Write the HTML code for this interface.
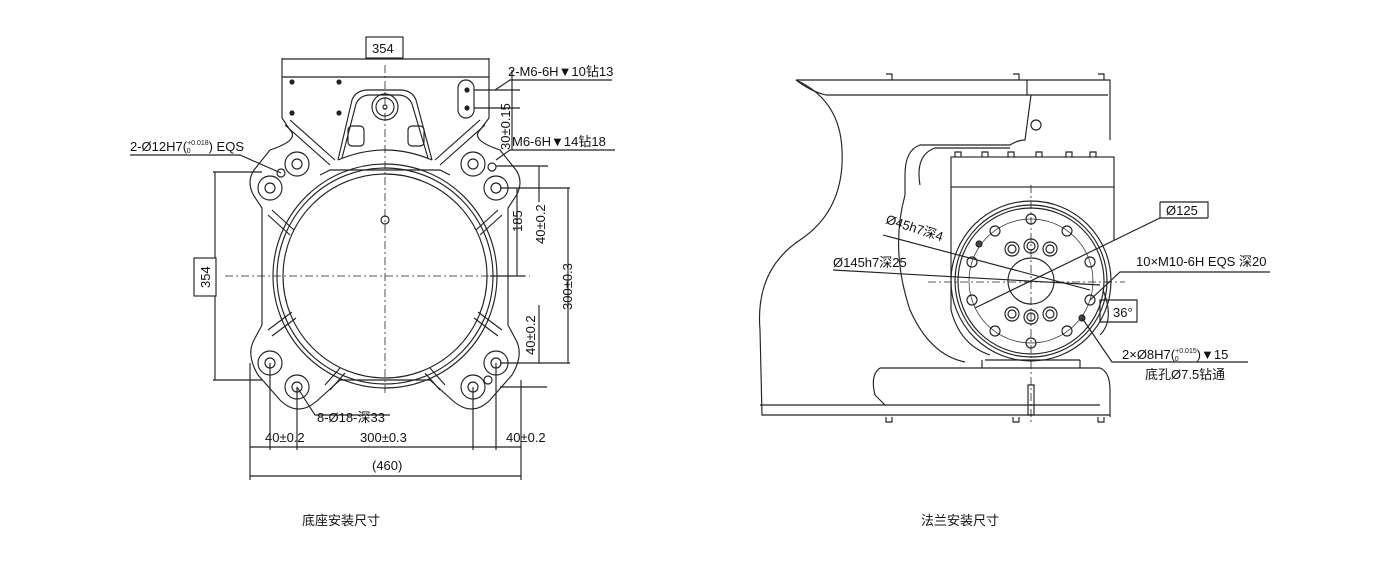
<!DOCTYPE html>
<html><head><meta charset="utf-8"><style>
html,body{margin:0;padding:0;background:#fff;}
svg{display:block;}
text{font-family:"Liberation Sans","Noto Sans CJK SC",sans-serif;fill:#111;}
.t{font-size:13px;}
</style></head><body>
<svg width="1400" height="567" viewBox="0 0 1400 567" xmlns="http://www.w3.org/2000/svg">
<g fill="none" stroke="#222" stroke-width="1.15">
<!-- LEFT DRAWING -->
<path d="M282 77 H489 V118 M282 77 V118"/>
<circle cx="292" cy="82" r="2" fill="#222"/><circle cx="339" cy="82" r="2" fill="#222"/>
<circle cx="292" cy="113" r="2" fill="#222"/><circle cx="339" cy="113" r="2" fill="#222"/>
<path d="M338 160 L352 100 Q356 90 368 90 H400 Q412 90 416 100 L432 160"/>
<path d="M342 158 L356 104 Q360 95 370 95 H398 Q408 95 412 104 L428 158"/>
<circle cx="385" cy="107" r="13"/><circle cx="385" cy="107" r="9"/><circle cx="385" cy="107" r="2"/>
<path d="M338 160 Q385 140 432 160"/>
<rect x="348" y="126" width="16" height="20" rx="4"/><rect x="408" y="126" width="16" height="20" rx="4"/>
<rect x="458" y="80" width="16" height="38" rx="8"/>
<circle cx="467" cy="90" r="2" fill="#222"/><circle cx="467" cy="108" r="2" fill="#222"/>
<path d="M282 118 L290 130 Q300 140 270 150 L254 170 Q246 182 254 196 L262 208 V325 L254 340 Q246 355 258 375 L280 400 Q298 418 318 400 L340 380 H430 L452 400 Q472 418 490 400 L512 375 Q524 355 516 340 L508 325 V208 L516 196 Q524 182 516 170 L500 150 Q470 140 480 130 L489 118"/>
<path d="M320 175 L330 170 H440 L450 175"/>
<circle cx="385" cy="276" r="102"/>
<circle cx="385" cy="276" r="112"/>
<circle cx="385" cy="276" r="108"/>
<circle cx="385" cy="220" r="4"/>
<g>
<circle cx="297" cy="164" r="12"/><circle cx="297" cy="164" r="5"/>
<circle cx="270" cy="188" r="12"/><circle cx="270" cy="188" r="5"/>
<circle cx="473" cy="164" r="12"/><circle cx="473" cy="164" r="5"/>
<circle cx="496" cy="188" r="12"/><circle cx="496" cy="188" r="5"/>
<circle cx="270" cy="363" r="12"/><circle cx="270" cy="363" r="5"/>
<circle cx="297" cy="387" r="12"/><circle cx="297" cy="387" r="5"/>
<circle cx="473" cy="387" r="12"/><circle cx="473" cy="387" r="5"/>
<circle cx="496" cy="363" r="12"/><circle cx="496" cy="363" r="5"/>
<circle cx="281" cy="173" r="4"/><circle cx="492" cy="167" r="4"/><circle cx="488" cy="380" r="4"/>
</g>
<path d="M268 215 L290 235 M272 210 L294 230 M268 330 L292 312 M272 336 L296 318 M502 215 L480 235 M498 210 L476 230 M502 330 L478 312 M498 336 L474 318 M325 385 L340 368 M330 390 L345 373 M445 385 L430 368 M440 390 L425 373"/>
<path d="M285 125 L330 165 M290 120 L335 160 M485 125 L440 165 M480 120 L435 160"/>
<g stroke-dasharray="8 3 2 3" stroke-width="0.8">
<path d="M385 65 V395"/><path d="M225 276 H530"/>
</g>
<path d="M282 59 H489 M282 58 V77 M489 58 V77"/>
<rect x="366" y="37" width="37" height="21" fill="#fff"/>
<path d="M215 172 V380 M213 172 H262 M213 380 H262"/>
<rect x="194" y="258" width="22" height="38" fill="#fff"/>
<path d="M495 90 L510 80 H612"/>
<path d="M474 90 H520 M474 108 H520 M512 70 V150"/>
<path d="M496 160 L510 150 H615"/>
<path d="M496 166 H548 M490 276 H525 M517 188 V276 M539 166 V202 M500 188 H570 M500 363 H570 M568 188 V363 M539 305 V363 M500 387 H547"/>
<path d="M281 173 L240 155 H130"/>
<path d="M297 387 L315 415 H390"/>
<path d="M250 363 V480 M270 363 V450 M297 387 V450 M473 387 V450 M496 363 V450 M521 380 V480"/>
<path d="M250 447 H521 M250 476 H521"/>

<!-- RIGHT DRAWING -->
<path d="M796 80 H1110 V140 M796 80 Q812 92 826 95 H1108"/>
<path d="M1027 80 V95 M1031 95 L1025 140 Q1018 140 1010 145"/>
<circle cx="1036" cy="125" r="5"/>
<path d="M886 74 h6 v6 M1013 74 h6 v6 M1098 74 h6 v6"/>
<path d="M796 80 Q840 100 842 150 Q845 210 800 240 Q755 270 760 330 L762 415 H1110"/>
<path d="M760 405 H1100"/>
<path d="M1010 145 H920 Q905 150 905 175 V195"/>
<path d="M1010 148 H935 Q915 155 920 185"/>
<rect x="951" y="157" width="163" height="30"/>
<path d="M955 157 v-5 h6 v5 M982 157 v-5 h6 v5 M1008 157 v-5 h6 v5 M1036 157 v-5 h6 v5 M1066 157 v-5 h6 v5 M1090 157 v-5 h6 v5"/>
<path d="M951 187 V310 Q960 345 990 355 M1114 187 V240"/>
<path d="M905 195 Q890 250 910 310 Q930 355 965 362"/>
<circle cx="1031" cy="281" r="80"/>
<circle cx="1031" cy="281" r="76"/>
<circle cx="1031" cy="281" r="73"/>
<circle cx="1031" cy="281" r="62" stroke-width="0.7"/>
<circle cx="1031" cy="281" r="23"/>
<g>
<circle cx="1031" cy="219" r="5"/><circle cx="1067" cy="231" r="5"/><circle cx="1090" cy="262" r="5"/><circle cx="1090" cy="300" r="5"/><circle cx="1067" cy="331" r="5"/><circle cx="1031" cy="343" r="5"/><circle cx="995" cy="331" r="5"/><circle cx="972" cy="300" r="5"/><circle cx="972" cy="262" r="5"/><circle cx="995" cy="231" r="5"/>
<circle cx="979" cy="244" r="3" fill="#444"/><circle cx="1082" cy="318" r="3" fill="#444"/>
<circle cx="1012" cy="249" r="7"/><circle cx="1012" cy="249" r="4"/>
<circle cx="1031" cy="246" r="7"/><circle cx="1031" cy="246" r="4"/>
<circle cx="1050" cy="249" r="7"/><circle cx="1050" cy="249" r="4"/>
<circle cx="1012" cy="314" r="7"/><circle cx="1012" cy="314" r="4"/>
<circle cx="1031" cy="317" r="7"/><circle cx="1031" cy="317" r="4"/>
<circle cx="1050" cy="314" r="7"/><circle cx="1050" cy="314" r="4"/>
</g>
<path d="M985 360 H1080 M982 360 V368 M1080 360 V368"/>
<path d="M880 368 H1100 Q1110 372 1110 390 V417 M880 368 Q870 375 875 395 L885 405"/>
<path d="M1028 385 v30 h6 v-30 z"/>
<path d="M886 417 v5 h6 v-5 M1013 417 v5 h6 v-5 M1098 417 v5 h6 v-5"/>
<g stroke-dasharray="8 3 2 3" stroke-width="0.8"><path d="M1031 185 V425"/><path d="M928 282 H1125"/></g>
<path d="M975 308 L1160 218 H1208 M1160 202 H1208 V218 M1160 202 V218"/>
<path d="M883 235 L1090 290"/>
<path d="M833 270 L1100 285"/>
<path d="M1090 300 L1120 272 H1270"/>
<path d="M1082 318 L1112 362 H1248"/>
<path d="M1100 300 H1137 V322 H1100 Z M1103 290 Q1115 320 1100 335"/>
</g>
<g class="t">
<text x="372" y="53">354</text>
<text x="508" y="76">2-M6-6H▼10钻13</text>
<text x="512" y="146">M6-6H▼14钻18</text>
<text x="130" y="151">2-Ø12H7(<tspan font-size="7" dy="-6">+0.018</tspan><tspan font-size="7" dx="-22" dy="8">0</tspan><tspan dy="-2" dx="18">) EQS</tspan></text>
<text x="317" y="422">8-Ø18-深33</text>
<text x="265" y="442">40±0.2</text>
<text x="360" y="442">300±0.3</text>
<text x="506" y="442">40±0.2</text>
<text x="372" y="470">(460)</text>
<text transform="translate(210,288) rotate(-90)">354</text>
<text transform="translate(510,150) rotate(-90)">30±0.15</text>
<text transform="translate(522,232) rotate(-90)">185</text>
<text transform="translate(545,244) rotate(-90)">40±0.2</text>
<text transform="translate(572,310) rotate(-90)">300±0.3</text>
<text transform="translate(535,355) rotate(-90)">40±0.2</text>
<text x="1166" y="215">Ø125</text>
<text transform="translate(885,223) rotate(18)">Ø45h7深4</text>
<text x="833" y="267">Ø145h7深25</text>
<text x="1136" y="266">10×M10-6H EQS 深20</text>
<text x="1113" y="317">36°</text>
<text x="1122" y="359">2×Ø8H7(<tspan font-size="7" dy="-6">+0.015</tspan><tspan font-size="7" dx="-22" dy="8">0</tspan><tspan dy="-2" dx="18">)▼15</tspan></text>
<text x="1145" y="379">底孔Ø7.5钻通</text>
</g>
<text x="302" y="525" font-size="13">底座安装尺寸</text>
<text x="921" y="525" font-size="13">法兰安装尺寸</text>
</svg>
</body></html>
